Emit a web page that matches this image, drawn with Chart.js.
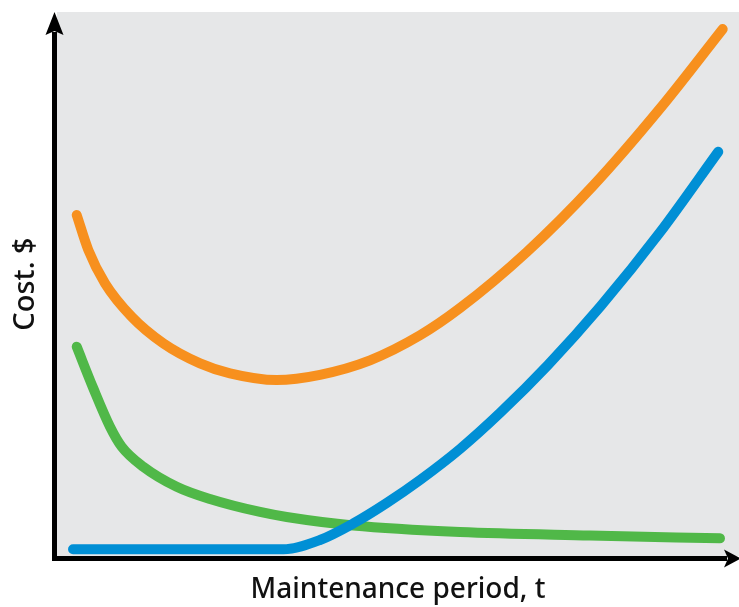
<!DOCTYPE html>
<html>
<head>
<meta charset="utf-8">
<title>Maintenance cost</title>
<script src="https://cdn.jsdelivr.net/npm/chart.js@4.4.1/dist/chart.umd.min.js"></script>
<style>
	body { margin: 0; background: #fff; }
	canvas { display: block; }
</style>
</head>
<body>
<canvas id="mycanvas" width="739" height="607"></canvas>
<script>
// total cost (orange)
var total_t = [0.289, 0.459, 0.704, 1.095, 1.559, 2.097, 2.537, 3.221, 3.856, 4.589, 5.323, 5.909, 6.887, 7.864, 8.842, 9.761];
var total_v = [6.268, 5.625, 5.013, 4.399, 3.91, 3.542, 3.358, 3.235, 3.331, 3.597, 4.057, 4.557, 5.586, 6.811, 8.226, 9.686];
// failure cost (blue)
var fail_t = [0.235, 3.318, 3.856, 4.345, 4.834, 5.323, 5.909, 6.496, 7.199, 7.97, 8.842, 9.696];
var fail_v = [0.123, 0.123, 0.294, 0.598, 0.974, 1.397, 1.967, 2.629, 3.511, 4.59, 5.95, 7.432];
// maintenance cost (green)
var maint_t = [0.289, 0.532, 0.777, 0.949, 1.265, 1.755, 2.243, 2.977, 3.368, 4.345, 5.909, 7.815, 9.721];
var maint_v = [3.847, 3.083, 2.377, 2.009, 1.642, 1.274, 1.048, 0.809, 0.717, 0.561, 0.441, 0.377, 0.325];

var xTitle = "Maintenance period, t";
var yTitle = "Cost. $";

function pts(t, v) {
	var out = [];
	for (var i in t) {
		out.push({x: t[i], y: v[i]});
	}
	return out;
}

function lineSet(label, color, t, v) {
	return {
		label: label,
		data: pts(t, v),
		borderColor: color,
		backgroundColor: color,
		borderWidth: 10,
		borderCapStyle: "round",
		borderJoinStyle: "round",
		cubicInterpolationMode: "monotone",
		pointRadius: 0,
		fill: false
	};
}

var bgPlugin = {
	id: "bg",
	beforeDraw: function(chart) {
		var a = chart.chartArea;
		var ctx = chart.ctx;
		ctx.save();
		ctx.fillStyle = "#e6e7e8";
		ctx.fillRect(a.left, a.top, a.right - a.left, a.bottom - a.top);
		ctx.restore();
	},
	afterDraw: function(chart) {
		var a = chart.chartArea;
		var ctx = chart.ctx;
		var ax = a.left - 2.5;
		var ay = a.bottom + 2.5;
		ctx.save();
		ctx.strokeStyle = "#000";
		ctx.fillStyle = "#000";
		ctx.lineWidth = 5;
		ctx.beginPath();
		ctx.moveTo(ax, ay + 2.5);
		ctx.lineTo(ax, a.top + 20);
		ctx.moveTo(ax - 2.5, ay);
		ctx.lineTo(a.right - 12, ay);
		ctx.stroke();
		// arrow heads
		ctx.beginPath();
		ctx.moveTo(ax, a.top);
		ctx.lineTo(ax - 9, a.top + 23);
		ctx.lineTo(ax, a.top + 19);
		ctx.lineTo(ax + 9, a.top + 23);
		ctx.closePath();
		ctx.fill();
		ctx.beginPath();
		ctx.moveTo(a.right + 2, ay);
		ctx.lineTo(a.right - 15, ay - 9);
		ctx.lineTo(a.right - 11, ay);
		ctx.lineTo(a.right - 15, ay + 9);
		ctx.closePath();
		ctx.fill();
		ctx.restore();
	}
};

var ctx = document.getElementById("mycanvas");

var LineGraph = new Chart(ctx, {
	type: "line",
	data: {
		datasets: [
			lineSet("Total", "#f7901e", total_t, total_v),
			lineSet("Failure", "#008fd5", fail_t, fail_v),
			lineSet("Maintenance", "#50b848", maint_t, maint_v)
		]
	},
	options: {
		responsive: false,
		animation: false,
		devicePixelRatio: 1,
		layout: { padding: { top: 12, left: 0, right: 0, bottom: 0 } },
		plugins: {
			legend: { display: false },
			tooltip: { enabled: false }
		},
		scales: {
			x: {
				type: "linear",
				min: 0,
				max: 10,
				ticks: { display: false },
				grid: { display: false },
				border: { display: false },
				title: {
					display: true,
					text: xTitle,
					color: "#111",
					font: { family: "'Noto Sans', sans-serif", size: 28, weight: "500" },
					padding: { top: 0, bottom: 0 }
				},
				afterFit: function(s) { s.height = 51; }
			},
			y: {
				type: "linear",
				min: 0,
				max: 10,
				ticks: { display: false },
				grid: { display: false },
				border: { display: false },
				title: {
					display: true,
					text: yTitle,
					color: "#111",
					font: { family: "'Noto Sans', sans-serif", size: 29, weight: "500" },
					padding: { top: 8, bottom: 0 }
				},
				afterFit: function(s) { s.width = 57; }
			}
		}
	},
	plugins: [bgPlugin]
});
</script>
</body>
</html>
